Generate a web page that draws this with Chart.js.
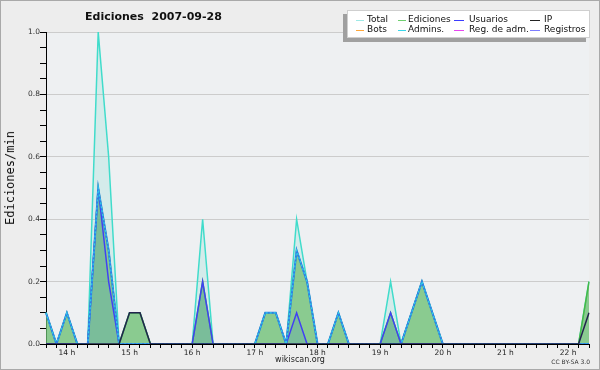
<!DOCTYPE html>
<html>
<head>
<meta charset="utf-8">
<script src="https://cdn.jsdelivr.net/npm/chart.js@4.4.0/dist/chart.umd.min.js"></script>
<style>
body { margin: 0; }
#wrap { position: relative; width: 600px; height: 370px; background: #ededed; overflow: hidden; font-family: "DejaVu Sans", sans-serif; color: #111; }
#chart { position: absolute; left: 0; top: 0; }
#frame { position: absolute; left: 0; top: 0; width: 600px; height: 370px; box-sizing: border-box; border: 1px solid #a9a9a9; pointer-events: none; }
.txt { position: absolute; white-space: nowrap; line-height: 1; }
#title { left: 85px; top: 11px; font-size: 11px; font-weight: bold; }
#ytitle { left: 10px; top: 178px; font-family: "DejaVu Sans Mono", monospace; font-size: 12px; transform: translate(-50%, -50%) rotate(-90deg); }
#site { left: 300px; top: 356px; font-size: 8px; transform: translateX(-50%); color: #222; }
#lic { right: 10px; top: 359px; font-size: 6px; color: #333; }
#legend { position: absolute; left: 347px; top: 10px; width: 243px; height: 28px; box-sizing: border-box; background: #fff; border: 1px solid #cfcfcf; box-shadow: -4px 4px 0 #a0a0a0; }
.sw { position: absolute; height: 1px; }
.lt { position: absolute; font-size: 9px; line-height: 1; white-space: nowrap; }
</style>
</head>
<body>
<div id="wrap">
  <canvas id="chart" width="600" height="370"></canvas>
  <div class="txt" id="title">Ediciones&nbsp; 2007-09-28</div>
  <div class="txt" id="ytitle">Ediciones/min</div>
  <div class="txt" id="site">wikiscan.org</div>
  <div class="txt" id="lic">CC BY-SA 3.0</div>
  <div id="legend"></div>
  <div id="frame"></div>
</div>
<script>
// 10 minute buckets, 13:40 -> 22:20
const times = [
    '13:40', '13:50', '14:00', '14:10', '14:20', '14:30', '14:40', '14:50', '15:00', '15:10',
    '15:20', '15:30', '15:40', '15:50', '16:00', '16:10', '16:20', '16:30', '16:40', '16:50',
    '17:00', '17:10', '17:20', '17:30', '17:40', '17:50', '18:00', '18:10', '18:20', '18:30',
    '18:40', '18:50', '19:00', '19:10', '19:20', '19:30', '19:40', '19:50', '20:00', '20:10',
    '20:20', '20:30', '20:40', '20:50', '21:00', '21:10', '21:20', '21:30', '21:40', '21:50',
    '22:00', '22:10', '22:20'
];

// edits per minute
const total = [
    0.1, 0, 0.1, 0, 0, 1.0, 0.6, 0, 0.1, 0.1,
    0, 0, 0, 0, 0, 0.4, 0, 0, 0, 0,
    0, 0.1, 0.1, 0, 0.4, 0.2, 0, 0, 0.1, 0,
    0, 0, 0, 0.2, 0, 0.1, 0.2, 0.1, 0, 0,
    0, 0, 0, 0, 0, 0, 0, 0, 0, 0,
    0, 0, 0.2
];
const ediciones = [
    0.1, 0, 0.1, 0, 0, 0.5, 0.3, 0, 0.1, 0.1,
    0, 0, 0, 0, 0, 0.2, 0, 0, 0, 0,
    0, 0.1, 0.1, 0, 0.3, 0.2, 0, 0, 0.1, 0,
    0, 0, 0, 0.1, 0, 0.1, 0.2, 0.1, 0, 0,
    0, 0, 0, 0, 0, 0, 0, 0, 0, 0,
    0, 0, 0.2
];
const usuarios = [
    0, 0, 0, 0, 0, 0.5, 0.2, 0, 0, 0,
    0, 0, 0, 0, 0, 0.2, 0, 0, 0, 0,
    0, 0, 0, 0, 0.1, 0, 0, 0, 0, 0,
    0, 0, 0, 0.1, 0, 0, 0, 0, 0, 0,
    0, 0, 0, 0, 0, 0, 0, 0, 0, 0,
    0, 0, 0
];
const ip = [
    0, 0, 0, 0, 0, 0, 0, 0, 0.1, 0.1,
    0, 0, 0, 0, 0, 0, 0, 0, 0, 0,
    0, 0, 0, 0, 0, 0, 0, 0, 0, 0,
    0, 0, 0, 0, 0, 0, 0, 0, 0, 0,
    0, 0, 0, 0, 0, 0, 0, 0, 0, 0,
    0, 0, 0.1
];
const registros = [
    0.1, 0, 0.1, 0, 0, 0.5, 0.3, 0, 0, 0,
    0, 0, 0, 0, 0, 0, 0, 0, 0, 0,
    0, 0.1, 0.1, 0, 0.3, 0.2, 0, 0, 0.1, 0,
    0, 0, 0, 0, 0, 0.1, 0.2, 0.1, 0, 0,
    0, 0, 0, 0, 0, 0, 0, 0, 0, 0,
    0, 0, 0
];
const admins = [
    0.1, 0, 0.1, 0, 0, 0.5, 0.3, 0, 0, 0,
    0, 0, 0, 0, 0, 0, 0, 0, 0, 0,
    0, 0.1, 0.1, 0, 0.3, 0.2, 0, 0, 0.1, 0,
    0, 0, 0, 0, 0, 0.1, 0.2, 0.1, 0, 0,
    0, 0, 0, 0, 0, 0, 0, 0, 0, 0,
    0, 0, 0
];
const yTicks = [0, 0.2, 0.4, 0.6, 0.8, 1.0];

const legendItems = [
    { name: 'Total', color: '#9ee9e6', sx: 356, sw: 8, tx: 367, row: 0 },
    { name: 'Ediciones', color: '#6fcf6f', sx: 398, sw: 8, tx: 408, row: 0 },
    { name: 'Usuarios', color: '#3b3bff', sx: 454, sw: 10, tx: 469, row: 0 },
    { name: 'IP', color: '#222222', sx: 530, sw: 10, tx: 544, row: 0 },
    { name: 'Bots', color: '#ffa73a', sx: 356, sw: 8, tx: 367, row: 1 },
    { name: 'Admins.', color: '#3ad6ea', sx: 398, sw: 8, tx: 408, row: 1 },
    { name: 'Reg. de adm.', color: '#e646f0', sx: 454, sw: 10, tx: 469, row: 1 },
    { name: 'Registros', color: '#7d7dff', sx: 530, sw: 10, tx: 544, row: 1 }
];

function buildLegend() {
    const box = document.getElementById('legend');
    box.innerHTML = legendItems.map(item => {
        const cy = item.row === 0 ? 9 : 19;
        return `<div class="sw" style="left:${item.sx - 348}px;top:${cy}px;width:${item.sw}px;background:${item.color}"></div>` +
            `<div class="lt" style="left:${item.tx - 348}px;top:${cy - 5}px">${item.name}</div>`;
    }).join('');
}

const plotBg = {
    id: 'plotBg',
    beforeDraw(chart) {
        const { ctx, chartArea: a } = chart;
        ctx.save();
        ctx.fillStyle = '#eef0f2';
        ctx.fillRect(a.left, a.top, a.right - a.left, a.bottom - a.top);
        ctx.restore();
    }
};

function line(label, data, color, width, order, fill, extra) {
    return Object.assign({
        label: label,
        data: data,
        borderColor: color,
        borderWidth: width,
        backgroundColor: fill || 'transparent',
        fill: fill ? 'origin' : false,
        pointRadius: 0,
        tension: 0,
        order: order
    }, extra || {});
}

function drawChart() {
    const ctx = document.getElementById('chart').getContext('2d');
    new Chart(ctx, {
        type: 'line',
        data: {
            labels: times,
            datasets: [
                line('Total', total, '#40dccb', 1.5, 6, 'rgba(64,210,190,0.15)'),
                line('Ediciones', ediciones, '#46b946', 1.5, 5, 'rgba(110,190,110,0.72)'),
                line('Usuarios', usuarios, '#4040f4', 1.5, 4, 'rgba(62,133,196,0.2)'),
                line('Registros', registros, '#2f7fe6', 2, 3),
                line('Admins.', admins, '#2fd0ea', 1.2, 2, null, { borderDash: [2, 2] }),
                line('IP', ip, '#23234e', 1.5, 1)
            ]
        },
        options: {
            responsive: false,
            animation: false,
            events: [],
            layout: { padding: { left: 0, right: 11, top: 32, bottom: 0 } },
            plugins: { legend: { display: false }, tooltip: { enabled: false } },
            scales: {
                x: {
                    z: 1,
                    offset: false,
                    afterFit: scale => { scale.height = 26; },
                    border: { display: true, color: '#000', width: 1 },
                    grid: { drawOnChartArea: false, drawTicks: true, tickLength: 4, tickColor: '#000' },
                    ticks: {
                        autoSkip: false,
                        maxRotation: 0,
                        padding: 1,
                        color: '#222',
                        font: { family: 'DejaVu Sans', size: 7.5 },
                        callback: (v, i) => times[i].endsWith(':00') ? parseInt(times[i], 10) + ' h' : ''
                    }
                },
                y: {
                    min: 0,
                    max: 1,
                    afterFit: scale => { scale.width = 46; },
                    border: { display: true, color: '#000', width: 1 },
                    grid: {
                        drawTicks: true,
                        tickLength: 6,
                        tickColor: '#000',
                        color: c => (c.tick.value > 0 && yTicks.some(t => Math.abs(t - c.tick.value) < 1e-6)) ? '#cccccc' : 'rgba(0,0,0,0)'
                    },
                    ticks: {
                        stepSize: 0.05,
                        autoSkip: false,
                        padding: 0,
                        color: '#333',
                        font: { family: 'DejaVu Sans', size: 7.5 },
                        callback: v => yTicks.some(t => Math.abs(t - v) < 1e-6) ? v.toFixed(1) : ''
                    }
                }
            }
        },
        plugins: [plotBg]
    });
}

buildLegend();
drawChart();
</script>
</body>
</html>
